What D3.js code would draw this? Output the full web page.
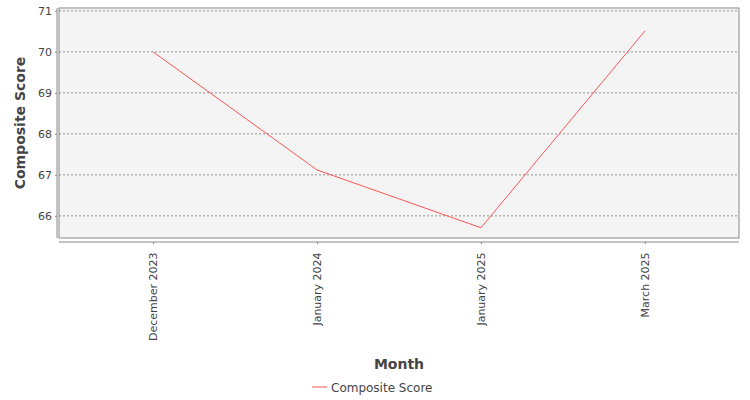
<!DOCTYPE html>
<html><head><meta charset="utf-8">
<script src="https://cdn.jsdelivr.net/npm/d3@7"></script>
<style>body{margin:0;background:#fff}text{font-family:"DejaVu Sans",sans-serif}</style>
</head><body><svg id="c" width="750" height="400"></svg>
<script>
const categories=["December 2023","January 2024","January 2025","March 2025"];
const seriesName="Composite Score";
const values=[70.0,67.12,65.71,70.51];
const yTicks=[66,67,68,69,70,71];

const svg=d3.select("#c");
const L=59,R=739,T=8,B=238;
const x=d3.scalePoint().domain(categories).range([L,R]).padding(0.574);
const y=d3.scaleLinear().domain([65.46,71.07]).range([B,T]);

svg.append("rect").attr("x",L).attr("y",T).attr("width",R-L).attr("height",B-T).attr("fill","#f4f4f4");
svg.append("g").selectAll("line").data(yTicks).join("line")
 .attr("x1",L).attr("x2",R).attr("y1",d=>y(d)).attr("y2",d=>y(d))
 .attr("stroke","#777").attr("stroke-width",0.8).attr("stroke-dasharray","2,2");
svg.append("rect").attr("x",L).attr("y",T).attr("width",R-L).attr("height",B-T).attr("fill","none").attr("stroke","#888").attr("stroke-width",1);

const ya=svg.append("g").attr("transform",`translate(${L-2},0)`).call(d3.axisLeft(y).tickValues(yTicks).tickSize(2).tickPadding(3).tickFormat(d3.format("d")));
ya.select(".domain").attr("stroke","#888").attr("d",`M-0,${T}V${B}`);
ya.selectAll("text").attr("font-size",11).attr("fill","#444");
ya.selectAll(".tick line").attr("stroke","#888");

const xa=svg.append("g").attr("transform",`translate(0,${B+4})`).call(d3.axisBottom(x).tickSize(2).tickPadding(4));
xa.select(".domain").attr("stroke","#888").attr("d",`M${L},0H${R}`);
xa.selectAll(".tick line").attr("stroke","#888");
xa.selectAll("text").attr("font-size",11).attr("fill","#444")
 .attr("transform","rotate(-90)").attr("text-anchor","end").attr("dx","-0.4em").attr("dy","-0.45em").attr("x",-6).attr("y",0)
 .attr("dy","0.35em");

svg.append("path").datum(values).attr("fill","none").attr("stroke","#ff5555").attr("stroke-width",1)
 .attr("d",d3.line().x((d,i)=>x(categories[i])).y(d=>y(d)));

svg.append("text").attr("transform",`translate(25,${(T+B)/2}) rotate(-90)`).attr("text-anchor","middle")
 .attr("font-size",14).attr("font-weight","bold").attr("fill","#444").text("Composite Score");
svg.append("text").attr("x",(L+R)/2).attr("y",369).attr("text-anchor","middle")
 .attr("font-size",14).attr("font-weight","bold").attr("fill","#444").text("Month");

svg.append("line").attr("x1",312).attr("x2",327).attr("y1",387).attr("y2",387).attr("stroke","#ff5555");
svg.append("text").attr("x",331).attr("y",391.5).attr("font-size",12).attr("fill","#444").text(seriesName);
</script></body></html>
